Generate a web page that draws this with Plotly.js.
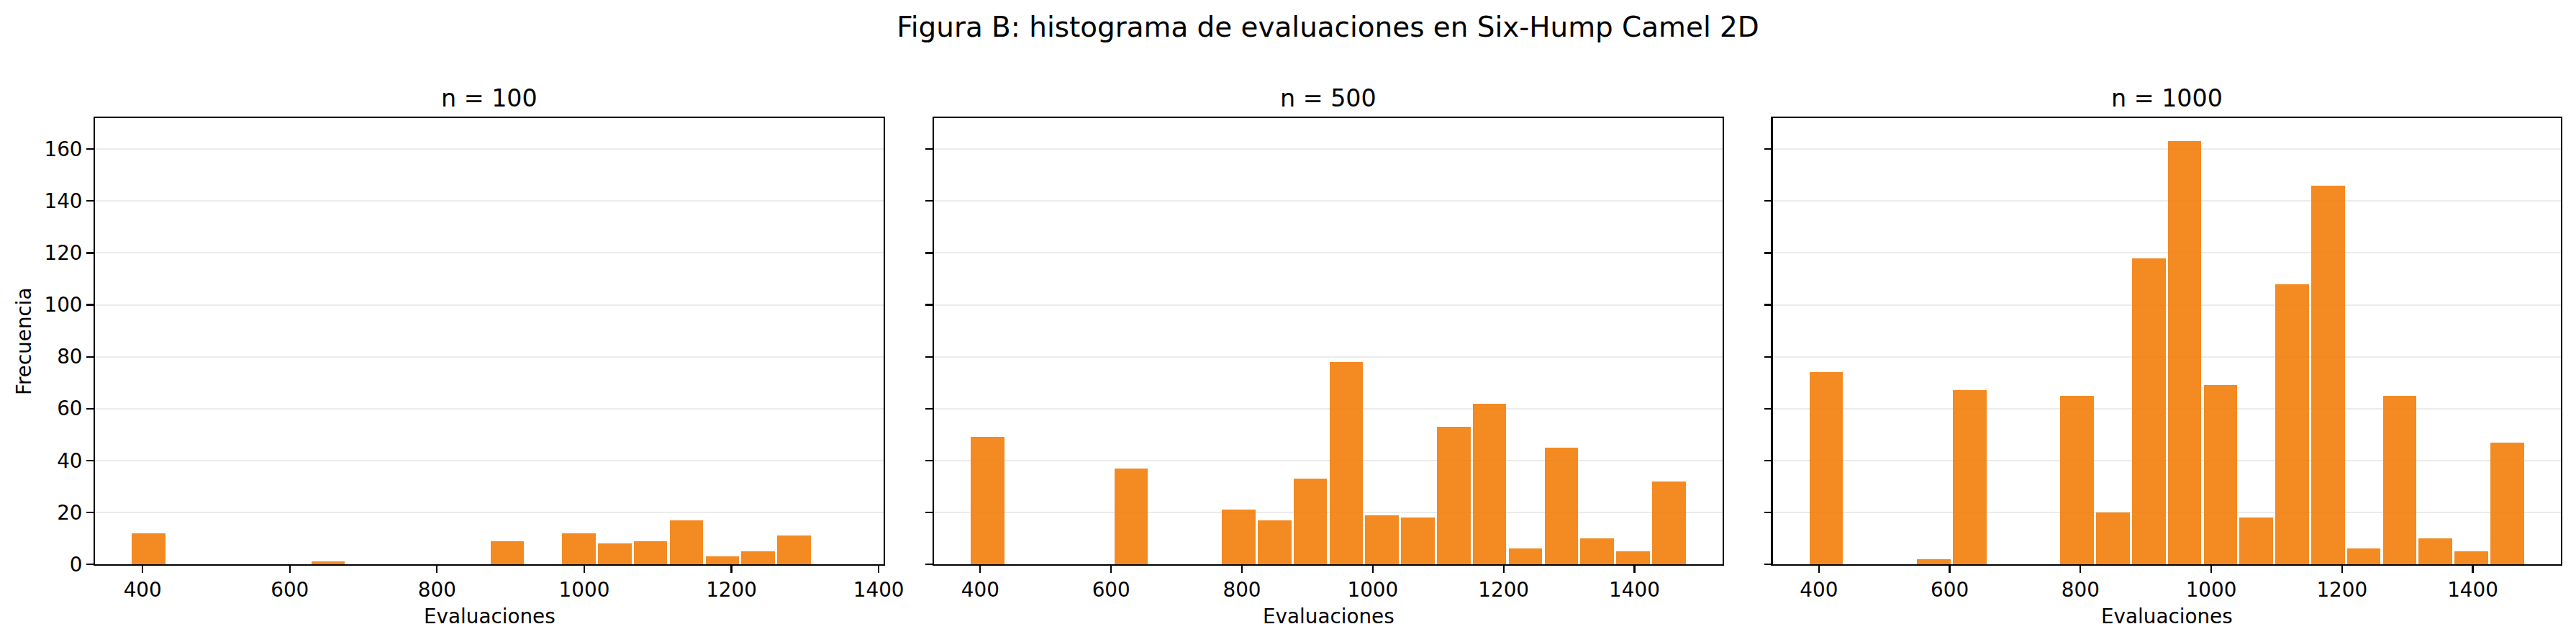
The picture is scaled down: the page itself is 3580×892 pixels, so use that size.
<!DOCTYPE html>
<html>
<head>
<meta charset="utf-8">
<script src="https://cdn.plot.ly/plotly-3.0.1.min.js"></script>
<style>
  html, body { margin: 0; padding: 0; background: #fff; }
  #chart { width: 3580px; height: 892px; }
</style>
</head>
<body>
<div id="chart"></div>
<script>
(function () {
    'use strict';

    // Histogram data (20 bins per panel)
    const panelTitles = ['n = 100', 'n = 500', 'n = 1000'];

    const binStart100 = 384;
    const binWidth100 = 48.7;
    const counts100 = [12, 0, 0, 0, 0, 1, 0, 0, 0, 0, 9, 0, 12, 8, 9, 17, 3, 5, 11, 0];

    const binStart500 = 384;
    const binWidth500 = 54.8;
    const counts500 = [49, 0, 0, 0, 37, 0, 0, 21, 17, 33, 78, 19, 18, 53, 62, 6, 45, 10, 5, 32];

    const binStart1000 = 384;
    const binWidth1000 = 54.8;
    const counts1000 = [74, 0, 0, 2, 67, 0, 0, 65, 20, 118, 163, 69, 18, 108, 146, 6, 65, 10, 5, 47];

    const yTicks = [0, 20, 40, 60, 80, 100, 120, 140, 160];
    const xTicks = [400, 600, 800, 1000, 1200, 1400];

    const COLORS = {
        bar: 'rgba(243,125,10,0.9)',
        grid: '#ebebeb',
        axis: '#000000',
        text: '#000000'
    };
    const FONT = '"DejaVu Sans", "Liberation Sans", sans-serif';
    const RWIDTH = 0.935; // relative bar width (white gap between bins)

    const panels = [
        { start: binStart100, width: binWidth100, counts: counts100 },
        { start: binStart500, width: binWidth500, counts: counts500 },
        { start: binStart1000, width: binWidth1000, counts: counts1000 }
    ];

    // subplot boxes in px: [132,1228], [1298,2394], [2463.5,3559]
    const plotW = 3580 - 132 - 21;
    const domains = [
        [0, 1096 / plotW],
        [1166 / plotW, 2262 / plotW],
        [2331.5 / plotW, 1]
    ];

    const traces = [];
    const layout = {
        width: 3580,
        height: 892,
        paper_bgcolor: '#ffffff',
        plot_bgcolor: '#ffffff',
        margin: { l: 132, r: 21, t: 164, b: 108 },
        showlegend: false,
        bargap: 0,
        font: { family: FONT, color: COLORS.text, size: 27.8 },
        title: {
            text: 'Figura B: histograma de evaluaciones en Six-Hump Camel 2D',
            font: { family: FONT, size: 38.9, color: COLORS.text },
            x: 0.5,
            xref: 'paper',
            xanchor: 'center',
            y: 1 - 37 / 892,
            yref: 'container',
            yanchor: 'middle'
        },
        annotations: []
    };

    panels.forEach(function (p, i) {
        const sfx = i === 0 ? '' : String(i + 1);
        const nb = p.counts.length;
        const centers = p.counts.map(function (_, k) { return p.start + (k + 0.5) * p.width; });
        const span = nb * p.width;

        traces.push({
            type: 'bar',
            x: centers,
            y: p.counts,
            width: p.width * RWIDTH,
            xaxis: 'x' + sfx,
            yaxis: 'y' + sfx,
            marker: { color: COLORS.bar, line: { width: 0 } },
            hoverinfo: 'x+y'
        });

        layout['xaxis' + sfx] = {
            domain: domains[i],
            anchor: 'y' + sfx,
            range: [p.start - 0.05 * span, p.start + 1.05 * span],
            tickmode: 'array',
            tickvals: xTicks,
            ticktext: xTicks.map(String),
            ticks: 'outside',
            ticklen: 9.7,
            tickwidth: 2.2,
            tickcolor: COLORS.axis,
            tickfont: { family: FONT, size: 27.8, color: COLORS.text },
            showline: true,
            mirror: true,
            linecolor: COLORS.axis,
            linewidth: 2.2,
            showgrid: false,
            zeroline: false
        };

        layout['yaxis' + sfx] = {
            domain: [0, 1],
            anchor: 'x' + sfx,
            range: [0, 172],
            tickmode: 'array',
            tickvals: yTicks,
            ticktext: yTicks.map(String),
            showticklabels: i === 0,
            ticks: 'outside',
            ticklen: 9.7,
            tickwidth: 2.2,
            tickcolor: COLORS.axis,
            tickfont: { family: FONT, size: 27.8, color: COLORS.text },
            showline: true,
            mirror: true,
            linecolor: COLORS.axis,
            linewidth: 2.2,
            showgrid: true,
            gridcolor: COLORS.grid,
            gridwidth: 2,
            zeroline: false
        };

        const mid = (domains[i][0] + domains[i][1]) / 2;

        // subplot title
        layout.annotations.push({
            text: panelTitles[i],
            xref: 'paper', yref: 'paper',
            x: mid, y: 1,
            xanchor: 'center', yanchor: 'middle',
            yshift: 28,
            showarrow: false,
            font: { family: FONT, size: 33.3, color: COLORS.text }
        });

        // x axis title
        layout.annotations.push({
            text: 'Evaluaciones',
            xref: 'paper', yref: 'paper',
            x: mid, y: 0,
            xanchor: 'center', yanchor: 'middle',
            yshift: -72,
            showarrow: false,
            font: { family: FONT, size: 27.8, color: COLORS.text }
        });
    });

    // y axis title (shared)
    layout.annotations.push({
        text: 'Frecuencia',
        xref: 'paper', yref: 'paper',
        x: 0, y: 0.5,
        xanchor: 'center', yanchor: 'middle',
        xshift: -99,
        textangle: -90,
        showarrow: false,
        font: { family: FONT, size: 27.8, color: COLORS.text }
    });

    Plotly.newPlot('chart', traces, layout, { displayModeBar: false, staticPlot: true });
})();
</script>
</body>
</html>
